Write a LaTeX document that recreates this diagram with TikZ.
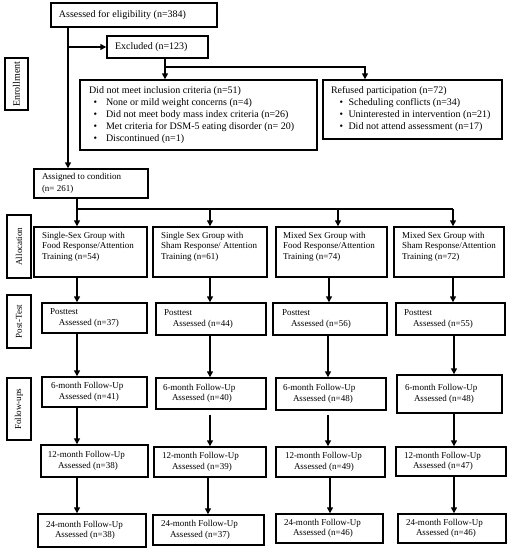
\documentclass[tikz,border=0pt]{standalone}
\usepackage{fontspec}
\setmainfont{Liberation Serif}
\usetikzlibrary{arrows.meta}
\newcommand\ften{\fontsize{10}{12}\selectfont}
\newcommand\fnine{\fontsize{9}{10.5}\selectfont}
\newcommand\fninew{\fontsize{9}{12}\selectfont}
% name, left, top, right, bottom, margin, font, lines
\newcommand\bx[8]{%
  \pgfmathsetmacro\bxw{#4-#2}\pgfmathsetmacro\bxh{#5-#3}\pgfmathsetmacro\bxtw{#4-#2-2*#6}%
  \node[box, font=#7, minimum width=\bxw pt, minimum height=\bxh pt, inner xsep=#6pt]
    (#1) at ({(#2+#4)/2},{(#3+#5)/2})
    {\makebox[\bxtw pt][l]{\begin{tabular}{@{}l@{}}#8\end{tabular}}};}
% name, left, top, right, bottom, font, text (rotated label)
\newcommand\lb[7]{%
  \pgfmathsetmacro\bxw{#4-#2}\pgfmathsetmacro\bxh{#5-#3}%
  \node[box, rotate=90, font=#6, minimum width=\bxh pt, minimum height=\bxw pt]
    (#1) at ({(#2+#4)/2},{(#3+#5)/2}) {#7};}
\begin{document}
\begin{tikzpicture}[x=1pt,y=-1pt,
  box/.style={draw, rectangle, line width=1.4pt, inner ysep=0pt, text=black},
  ln/.style={line width=1.4pt},
  arr/.style={line width=1.4pt, -{Triangle[length=6pt,width=6pt]}}]
\useasboundingbox[fill=white] (0,0) rectangle (508,550);

% enrollment
\bx{assess}{51}{3}{217}{27}{8}{\ften}{Assessed for eligibility (n=384)}
\bx{excl}{107}{36}{208}{58}{8}{\ften}{Excluded (n=123)}
\bx{didnot}{80}{80}{317}{150}{9}{\ften}{Did not meet inclusion criteria (n=51)\\
  \hspace*{4.5pt}\textbullet\hspace*{9pt}None or mild weight concerns (n=4)\\
  \hspace*{4.5pt}\textbullet\hspace*{9pt}Did not meet body mass index criteria (n=26)\\
  \hspace*{4.5pt}\textbullet\hspace*{9pt}Met criteria for DSM-5 eating disorder (n= 20)\\
  \hspace*{4.5pt}\textbullet\hspace*{9pt}Discontinued (n=1)}
\bx{refused}{323}{80}{502}{139}{8}{\ften}{Refused participation (n=72)\\
  \hspace*{8.5pt}\textbullet\hspace*{5.5pt}Scheduling conflicts (n=34)\\
  \hspace*{8.5pt}\textbullet\hspace*{5.5pt}Uninterested in intervention (n=21)\\
  \hspace*{8.5pt}\textbullet\hspace*{5.5pt}Did not attend assessment (n=17)}
\bx{assign}{34}{169}{148}{198}{8}{\fninew}{Assigned to condition\\(n= 261)}

% side labels
\lb{lenr}{5}{58}{28}{110}{\ften}{Enrollment}
\lb{lall}{7}{215}{31}{278}{\fnine}{Allocation}
\lb{lpost}{7}{295}{31}{348}{\fnine}{Post-Test}
\lb{lfol}{7}{378}{31}{440}{\fnine}{Follow-ups}

% allocation
\bx{g1}{34}{227}{147}{277}{8}{\fnine}{Single-Sex Group with\\Food Response/Attention\\Training (n=54)\\{}}
\bx{g2}{153}{227}{267}{277}{8}{\fnine}{Single Sex Group with\\Sham Response/ Attention\\Training (n=61)\\{}}
\bx{g3}{276}{227}{387}{277}{7}{\fnine}{Mixed Sex Group with\\Food Response/Attention\\Training (n=74)\\{}}
\bx{g4}{394}{227}{504}{277}{8}{\fnine}{Mixed Sex Group with\\Sham Response/Attention\\Training (n=72)\\{}}

% post-test
\bx{p1}{42}{303}{147}{333}{8}{\fnine}{Posttest\\\hspace*{9pt}Assessed (n=37)}
\bx{p2}{156}{303}{266}{335}{8}{\fnine}{Posttest\\\hspace*{9pt}Assessed (n=44)}
\bx{p3}{273}{303}{387}{335}{9}{\fnine}{Posttest\\\hspace*{9pt}Assessed (n=56)}
\bx{p4}{396}{303}{505}{335}{8}{\fnine}{Posttest\\\hspace*{9pt}Assessed (n=55)}

% 6-month
\bx{s1}{42}{377}{147}{407}{9}{\fnine}{6-month Follow-Up\\\hspace*{8pt}Assessed (n=41)}
\bx{s2}{156}{378}{266}{409}{7}{\fnine}{6-month Follow-Up\\\hspace*{9pt}Assessed (n=40)}
\bx{s3}{276}{378}{386}{410}{7}{\fnine}{6-month Follow-Up\\\hspace*{10pt}Assessed (n=48)}
\bx{s4}{397}{375}{502}{413}{8}{\fnine}{6-month Follow-Up\\\hspace*{9pt}Assessed (n=48)}

% 12-month
\bx{t1}{41}{445}{148}{477}{7}{\fnine}{12-month Follow-Up\\\hspace*{10pt}Assessed (n=38)}
\bx{t2}{154}{447}{266}{477}{8}{\fnine}{12-month Follow-Up\\\hspace*{10pt}Assessed (n=39)}
\bx{t3}{276}{447}{385}{477}{9}{\fnine}{12-month Follow-Up\\\hspace*{9pt}Assessed (n=49)}
\bx{t4}{396}{447}{506}{476}{8}{\fnine}{12-month Follow-Up\\\hspace*{9pt}Assessed (n=47)}

% 24-month
\bx{u1}{38}{514}{146}{547}{8}{\fnine}{24-month Follow-Up\\\hspace*{9pt}Assessed (n=38)}
\bx{u2}{153}{515}{264}{545}{8}{\fnine}{24-month Follow-Up\\\hspace*{9pt}Assessed (n=37)}
\bx{u3}{276}{514}{383}{543}{8}{\fnine}{24-month Follow-Up\\\hspace*{9pt}Assessed (n=46)}
\bx{u4}{398}{514}{506}{543}{8}{\fnine}{24-month Follow-Up\\\hspace*{10pt}Assessed (n=46)}

% enrollment connectors
\coordinate (xa) at (68,47);
\draw[arr] (assess.south -| xa) -- (assign.north -| xa);
\draw[arr] (xa) -- (excl.west);
\coordinate (xb) at (165,67);
\coordinate (xc) at (365,67);
\draw[arr] (excl.south -| xb) -- (didnot.north -| xb);
\draw[arr] (xb) -- (xc) -- (refused.north -| xc);

% allocation split
\coordinate (c1) at (77,209);
\coordinate (c2) at (210,209);
\coordinate (c3) at (338,209);
\coordinate (c4) at (453,209);
\draw[ln] (assign.south -| c1) -- (c1) -- (c4);
\draw[arr] (c1) -- (g1.north -| c1);
\draw[arr] (c2) -- (g2.north -| c2);
\draw[arr] (c3) -- (g3.north -| c3);
\draw[arr] (c4) -- (g4.north -| c4);

% column connectors
\coordinate (k1) at (77,0);
\coordinate (k2) at (210,0);
\coordinate (k2b) at (208,0);
\coordinate (k3a) at (329,0);
\coordinate (k3) at (328,0);
\coordinate (k3b) at (330,0);
\coordinate (k4a) at (453,0);
\coordinate (k4) at (454,0);

\draw[arr] (g1.south -| k1) -- (p1.north -| k1);
\draw[arr] (g2.south -| k2) -- (p2.north -| k2);
\draw[arr] (g3.south -| k3a) -- (p3.north -| k3a);
\draw[arr] (g4.south -| k4a) -- (p4.north -| k4a);

\draw[arr] (p1.south -| k1) -- (s1.north -| k1);
\draw[arr] (p2.south -| k2) -- (s2.north -| k2);
\draw[arr] (p3.south -| k3) -- (s3.north -| k3);
\draw[arr] (p4.south -| k4) -- (s4.north -| k4);

\draw[arr] (s1.south -| k1) -- (t1.north -| k1);
\draw[arr] ([yshift=-5pt]s2.south -| k2) -- (t2.north -| k2);
\draw[arr] ([yshift=-4pt]s3.south -| k3) -- (t3.north -| k3);
\draw[arr] (s4.south -| k4) -- (t4.north -| k4);

\draw[arr] (t1.south -| k1) -- (u1.north -| k1);
\draw[arr] (t2.south -| k2b) -- (u2.north -| k2b);
\draw[arr] (t3.south -| k3b) -- (u3.north -| k3b);
\draw[arr] (t4.south -| k4) -- (u4.north -| k4);
\end{tikzpicture}
\end{document}
